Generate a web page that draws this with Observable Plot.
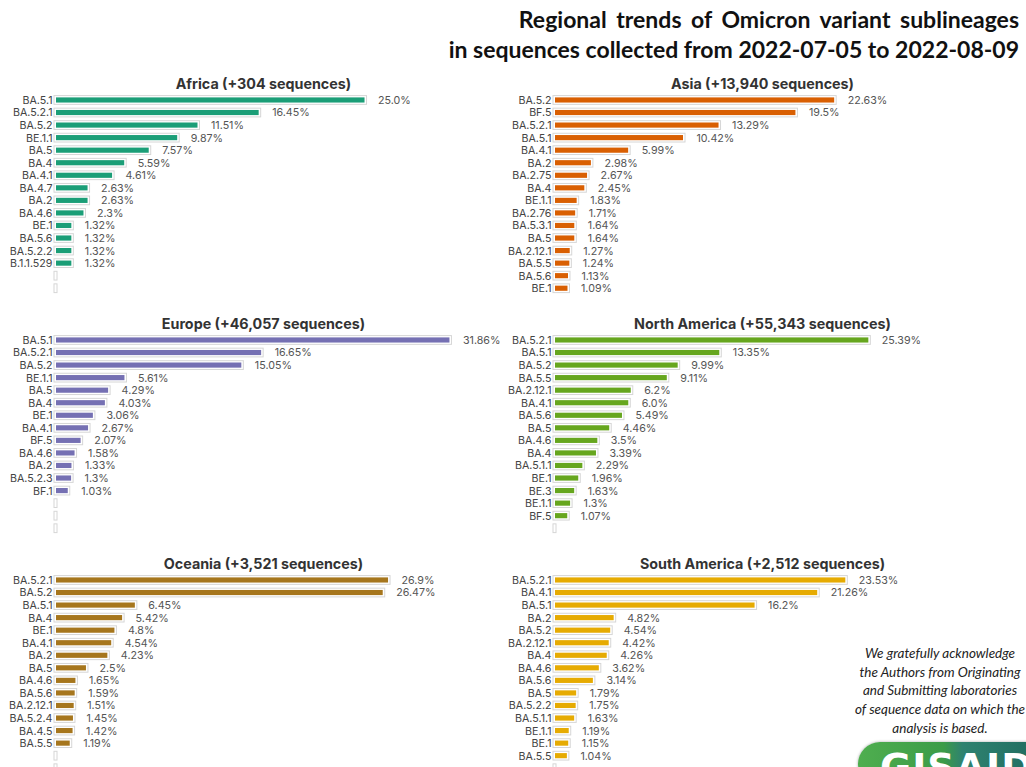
<!DOCTYPE html>
<html>
<head>
<meta charset="utf-8">
<script src="https://cdn.jsdelivr.net/npm/d3@7"></script>
<script src="https://cdn.jsdelivr.net/npm/@observablehq/plot@0.6"></script>
<style>
  html, body { margin: 0; padding: 0; background: #fff; overflow: hidden; }
  body { width: 1026px; height: 767px; position: relative; }
  .title { position: absolute; right: 7px; top: 5px; text-align: right;
    font-family: Lato, "Open Sans", sans-serif; font-weight: 700; font-size: 23px; line-height: 29.5px; color: #111; }
  .title .l1 { word-spacing: 4px; }
  .panel { position: absolute; }
  .panel svg { display: block; }
  .ack { position: absolute; left: 850px; width: 180px; top: 644px; text-align: center;
    font-family: Lato, "Open Sans", sans-serif; font-style: italic; font-size: 13.5px; line-height: 18.7px; color: #222; }
  .logo { position: absolute; left: 858px; top: 742px; width: 190px; height: 44px; border-radius: 22px;
    background: linear-gradient(90deg, #4fae4f 0%, #3c9c48 45%, #2f8270 55%, #1e6a5e 100%);
    box-shadow: 0 0 3px rgba(0,0,0,0.35); overflow: hidden; }
  .logo span { position: absolute; left: 22px; top: 3px; font-family: "DejaVu Sans", sans-serif; font-weight: 900;
    font-size: 38px; color: #fff; letter-spacing: 1px; }
</style>
</head>
<body>
<div class="title"><span class="l1">Regional trends of Omicron variant sublineages</span><br>in sequences collected from 2022-07-05 to 2022-08-09</div>
<div id="panels"></div>
<div class="ack">We gratefully acknowledge<br>the Authors from Originating<br>and Submitting laboratories<br>of sequence data on which the<br>analysis is based.</div>
<div class="logo"><span>GISAID</span></div>
<script>
// ---- data ----
const regions = ["Africa", "Asia", "Europe", "North America", "Oceania", "South America"];
const sequenceCounts = ["+304", "+13,940", "+46,057", "+55,343", "+3,521", "+2,512"];
const regionColors = ["#1b9e77", "#d95f02", "#7570b3", "#66a61e", "#a6761d", "#e6ab02"];

const africaLineages = ["BA.5.1","BA.5.2.1","BA.5.2","BE.1.1","BA.5","BA.4","BA.4.1","BA.4.7","BA.2","BA.4.6","BE.1","BA.5.6","BA.5.2.2","B.1.1.529"];
const africaShares = [25.0,16.45,11.51,9.87,7.57,5.59,4.61,2.63,2.63,2.3,1.32,1.32,1.32,1.32];

const asiaLineages = ["BA.5.2","BF.5","BA.5.2.1","BA.5.1","BA.4.1","BA.2","BA.2.75","BA.4","BE.1.1","BA.2.76","BA.5.3.1","BA.5","BA.2.12.1","BA.5.5","BA.5.6","BE.1"];
const asiaShares = [22.63,19.5,13.29,10.42,5.99,2.98,2.67,2.45,1.83,1.71,1.64,1.64,1.27,1.24,1.13,1.09];

const europeLineages = ["BA.5.1","BA.5.2.1","BA.5.2","BE.1.1","BA.5","BA.4","BE.1","BA.4.1","BF.5","BA.4.6","BA.2","BA.5.2.3","BF.1"];
const europeShares = [31.86,16.65,15.05,5.61,4.29,4.03,3.06,2.67,2.07,1.58,1.33,1.3,1.03];

const northAmericaLineages = ["BA.5.2.1","BA.5.1","BA.5.2","BA.5.5","BA.2.12.1","BA.4.1","BA.5.6","BA.5","BA.4.6","BA.4","BA.5.1.1","BE.1","BE.3","BE.1.1","BF.5"];
const northAmericaShares = [25.39,13.35,9.99,9.11,6.2,6.0,5.49,4.46,3.5,3.39,2.29,1.96,1.63,1.3,1.07];

const oceaniaLineages = ["BA.5.2.1","BA.5.2","BA.5.1","BA.4","BE.1","BA.4.1","BA.2","BA.5","BA.4.6","BA.5.6","BA.2.12.1","BA.5.2.4","BA.4.5","BA.5.5"];
const oceaniaShares = [26.9,26.47,6.45,5.42,4.8,4.54,4.23,2.5,1.65,1.59,1.51,1.45,1.42,1.19];

const southAmericaLineages = ["BA.5.2.1","BA.4.1","BA.5.1","BA.2","BA.5.2","BA.2.12.1","BA.4","BA.4.6","BA.5.6","BA.5","BA.5.2.2","BA.5.1.1","BE.1.1","BE.1","BA.5.5"];
const southAmericaShares = [23.53,21.26,16.2,4.82,4.54,4.42,4.26,3.62,3.14,1.79,1.75,1.63,1.19,1.15,1.04];

const slotCount = 16;
// ---- build ----
const lineageLists = [africaLineages, asiaLineages, europeLineages, northAmericaLineages, oceaniaLineages, southAmericaLineages];
const shareLists = [africaShares, asiaShares, europeShares, northAmericaShares, oceaniaShares, southAmericaShares];
const fmt = v => (Number.isInteger(v) ? v.toFixed(1) : String(v)) + "%";

const container = document.getElementById("panels");
regions.forEach((region, i) => {
  const rows = lineageLists[i].map((name, j) => ({name, share: shareLists[i][j], label: fmt(shareLists[i][j])}));
  const slots = rows.map(d => ({name: d.name, share: d.share}));
  for (let k = rows.length; k < slotCount; k++) slots.push({name: " ".repeat(k - rows.length + 1), share: 0});
  const col = i % 2, row = Math.floor(i / 2);
  const chart = Plot.plot({
    width: 500,
    height: 231,
    marginLeft: 55,
    marginRight: 29,
    marginTop: 23.7,
    marginBottom: 6.5,
    style: {fontFamily: "Inter, 'Noto Sans', sans-serif", fontSize: "10.7px", color: "#444", background: "transparent", overflow: "visible"},
    x: {domain: [0, 33.6], axis: null},
    y: {domain: slots.map(d => d.name), padding: 0, round: false, tickSize: 0, tickPadding: 3, label: null},
    marks: [
      Plot.barX(slots, {x: "share", y: "name", fill: "white", stroke: "#d6d6d6", strokeWidth: 1,
        insetTop: 1.9, insetBottom: 1.9, insetLeft: -1, insetRight: -2}),
      Plot.barX(rows, {x: "share", y: "name", fill: regionColors[i],
        insetTop: 3.7, insetBottom: 3.7, insetLeft: 1, insetRight: 0}),
      Plot.text(rows, {x: "share", y: "name", text: "label", textAnchor: "start", dx: 13, fill: "#555", fontSize: 10.7}),
      Plot.text([`${region} (${sequenceCounts[i]} sequences)`], {frameAnchor: "top", lineAnchor: "middle", dy: -10,
        fontWeight: "bold", fontSize: 14.3, fill: "#333"})
    ]
  });
  const wrap = document.createElement("div");
  wrap.className = "panel";
  wrap.style.left = (col * 499) + "px";
  wrap.style.top = (70 + row * 240) + "px";
  wrap.appendChild(chart);
  container.appendChild(wrap);
});
</script>
</body>
</html>
